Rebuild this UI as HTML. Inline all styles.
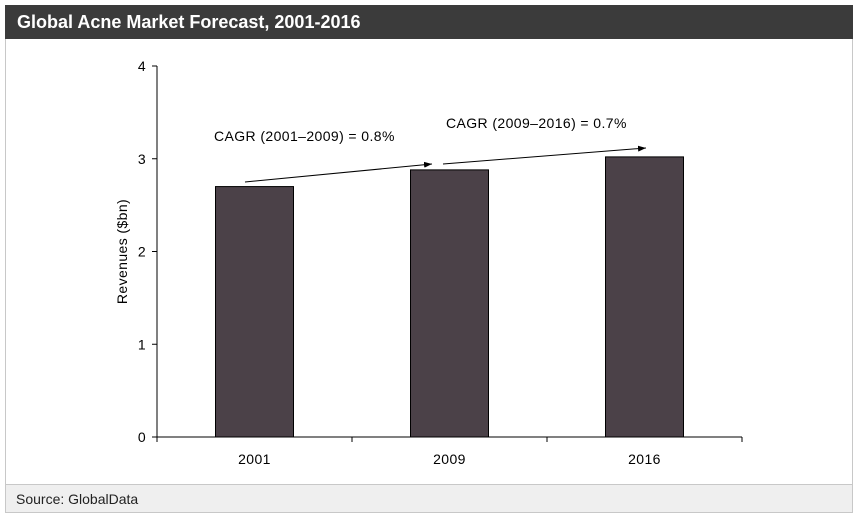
<!DOCTYPE html>
<html><head><meta charset="utf-8"><style>
body{margin:0;width:859px;height:520px;background:#fff;overflow:hidden;font-family:"Liberation Sans",Arial,sans-serif}
#title{position:absolute;left:5px;top:5px;width:848px;height:34px;background:#3b3b3b;color:#fff;font-weight:bold;font-size:18px;line-height:34px;box-sizing:border-box;padding-left:12px}
#frame{position:absolute;left:5px;top:5px;width:848px;height:508px;border:1px solid #c8c8c8;box-sizing:border-box}
#source{position:absolute;left:6px;top:484px;width:846px;height:28px;background:#efefef;border-top:1px solid #c8c8c8;font-size:14px;line-height:28px;padding-left:10px;box-sizing:border-box;color:#222}
svg{position:absolute;left:0;top:0}
svg text{font-size:14px;letter-spacing:0.4px}
</style></head><body>
<div id="frame"></div>
<div id="title">Global Acne Market Forecast, 2001-2016</div>
<svg id="c" width="859" height="520"></svg>
<div id="source">Source: GlobalData</div>
<script>
const categories=["2001","2009","2016"];
const values=[2.7,2.88,3.02];
const yTicks=[0,1,2,3,4];
const annotations=["CAGR (2001–2009) = 0.8%","CAGR (2009–2016) = 0.7%"];
const NS="http://www.w3.org/2000/svg";
const svg=document.getElementById('c');
const x0=157,x1=742,yb=437,yt=66,yMax=4;
const y=v=>yb-(v/yMax)*(yb-yt);
const band=(x1-x0)/categories.length;
const bx=i=>x0+band*i;
function mk(t,a,txt){const e=document.createElementNS(NS,t);for(const k in a)e.setAttribute(k,a[k]);if(txt!=null)e.textContent=txt;svg.appendChild(e);return e;}
const defs=mk('defs',{});
const m=document.createElementNS(NS,'marker');
m.setAttribute('id','ah');m.setAttribute('markerWidth','8');m.setAttribute('markerHeight','6');m.setAttribute('refX','8');m.setAttribute('refY','3');m.setAttribute('orient','auto');
const mp=document.createElementNS(NS,'path');mp.setAttribute('d','M0,0 L8,3 L0,6 Z');mp.setAttribute('fill','#000');m.appendChild(mp);defs.appendChild(m);
categories.forEach((c,i)=>{
 const bw=78,xc=bx(i)+band/2;
 const r=mk('rect',{x:xc-bw/2,y:y(values[i]),width:bw,height:yb-y(values[i]),fill:'#4b4148',stroke:'#000','stroke-width':1});
 
 
 const t=mk('text',{x:xc,y:yb+27,'text-anchor':'middle',fill:'#000'},c);
 
 
});
const ya=mk('line',{x1:x0,y1:yt,x2:x0,y2:yb,stroke:'#000'});


const xa=mk('line',{x1:x0,y1:yb,x2:x1,y2:yb,stroke:'#000'});


yTicks.forEach(v=>{
 mk('line',{x1:x0-5,y1:y(v),x2:x0,y2:y(v),stroke:'#000'});
 const t=mk('text',{x:x0-11,y:y(v)+5,'text-anchor':'end'},String(v));
 
 
});
for(let i=0;i<=categories.length;i++)mk('line',{x1:bx(i),y1:yb,x2:bx(i),y2:yb+5,stroke:'#000'});
const yt2=mk('text',{x:0,y:0,'text-anchor':'middle',transform:`translate(127,${(yt+yb)/2}) rotate(-90)`},'Revenues ($bn)');


const a1=mk('line',{x1:245,y1:182,x2:432,y2:164,stroke:'#000','marker-end':'url(#ah)'});


const a2=mk('line',{x1:443,y1:164,x2:646,y2:148,stroke:'#000','marker-end':'url(#ah)'});


const l1=mk('text',{x:214,y:141},annotations[0]);


const l2=mk('text',{x:446,y:128},annotations[1]);


</script>
</body></html>
